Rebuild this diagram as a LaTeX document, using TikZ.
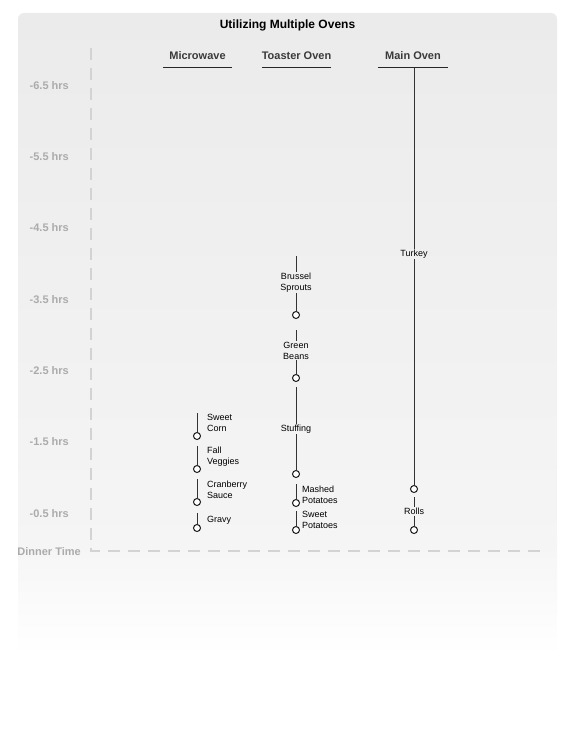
\documentclass[tikz,border=0pt]{standalone}
\usepackage{fontspec}
\setmainfont{Liberation Sans}
\usetikzlibrary{positioning,calc}
\definecolor{panel}{HTML}{EBEBEB}
\definecolor{panel2}{HTML}{F5F5F5}
\definecolor{axisline}{HTML}{D3D3D3}
\definecolor{axistext}{HTML}{ABABAB}
\definecolor{head}{HTML}{3A3A3A}
\definecolor{bar}{HTML}{333333}

\begin{document}
\begin{tikzpicture}[
  x=1pt,y=-1pt,
  title/.style={font=\bfseries\fontsize{12}{14}\selectfont,inner sep=0pt},
  oven/.style={font=\bfseries\fontsize{11}{13}\selectfont,text=head,inner sep=0pt,anchor=base},
  ovenrule/.style={draw=black!85,line width=1pt},
  hrs/.style={font=\bfseries\fontsize{11}{13}\selectfont,text=axistext,anchor=east,inner sep=0pt},
  axis/.style={draw=axisline,line width=2pt,dash pattern=on 12pt off 8pt},
  dish/.style={font=\fontsize{9}{11}\selectfont,align=left,inner sep=1pt},
  dishc/.style={font=\fontsize{9}{11}\selectfont,align=center,inner sep=1pt},
  done/.style={circle,draw=black!90,fill=white,line width=1pt,inner sep=0pt,minimum size=7pt},
  span/.style={draw=bar,line width=1pt}
]
\useasboundingbox (0,0) rectangle (576,733);

% panel
\shade[top color=panel2,bottom color=white] (18,540) rectangle (557,655);
\shade[top color=panel,bottom color=panel2,rounded corners=6pt]
  (18,551) -- (18,13) -- (557,13) -- (557,551) [sharp corners] -- cycle;

\node[title] (title) at (287.5,25.5) {Utilizing Multiple Ovens};

% oven headers
\node[oven] (micro) at (197.5,60) {Microwave};
\node[oven] (toaster) at (296.5,60) {Toaster Oven};
\node[oven] (main) at (413,60) {Main Oven};
\draw[ovenrule] (163,68) -- (232,68);
\draw[ovenrule] (262,68) -- (331,68);
\draw[ovenrule] (378,68) -- (448,68);

% time axis
\draw[axis] (91,48) -- (91,551) -- (546,551);
\node[hrs] (h65) at (69,85.5) {-6.5 hrs};
\node[hrs] (h55) at (69,156.5) {-5.5 hrs};
\node[hrs] (h45) at (69,227.5) {-4.5 hrs};
\node[hrs] (h35) at (69,299.5) {-3.5 hrs};
\node[hrs] (h25) at (69,370.5) {-2.5 hrs};
\node[hrs] (h15) at (69,441.5) {-1.5 hrs};
\node[hrs] (h05) at (69,513.5) {-0.5 hrs};
\node[hrs] (dinner) at (81,551.5) {Dinner Time};

% microwave
\coordinate (cornS) at (197,413);
\node[done] (cornE) at (197,436) {};
\node[dish,anchor=west] (cornT) at (206,422.5) {Sweet\\Corn};
\draw[span] (cornS) -- (cornE);

\coordinate (veggS) at (197,446);
\node[done] (veggE) at (197,469) {};
\node[dish,anchor=west] (veggT) at (206,456.5) {Fall\\Veggies};
\draw[span] (veggS) -- (veggE);

\coordinate (cranS) at (197,479);
\node[done] (cranE) at (197,502) {};
\node[dish,anchor=west] (cranT) at (206,489.5) {Cranberry\\Sauce};
\draw[span] (cranS) -- (cranE);

\coordinate (gravyS) at (197,513);
\node[done] (gravyE) at (197,528) {};
\node[dish,anchor=west] (gravyT) at (206,520) {Gravy};
\draw[span] (gravyS) -- (gravyE);

% toaster oven
\coordinate (sproutS) at (296,256);
\node[done] (sproutE) at (296,315) {};
\node[dishc] (sproutT) at (296,282.5) {Brussel\\Sprouts};
\draw[span] (sproutS) -- (sproutT) -- (sproutE);

\coordinate (beansS) at (296,330);
\node[done] (beansE) at (296,378) {};
\node[dishc] (beansT) at (296,350.5) {Green\\Beans};
\draw[span] (beansS) -- (beansT) -- (beansE);

\coordinate (stuffS) at (296,387);
\node[done] (stuffE) at (296,474) {};
\node[dishc] (stuffT) at (296,429) {Stuffing};
\draw[span] (stuffS) -- (stuffT) -- (stuffE);

\coordinate (mashS) at (296,484);
\node[done] (mashE) at (296,503) {};
\node[dish,anchor=west] (mashT) at (301,494.5) {Mashed\\Potatoes};
\draw[span] (mashS) -- (mashE);

\coordinate (sweetS) at (296,511);
\node[done] (sweetE) at (296,530) {};
\node[dish,anchor=west] (sweetT) at (301,519.5) {Sweet\\Potatoes};
\draw[span] (sweetS) -- (sweetE);

% main oven
\coordinate (turkeyS) at (414,68);
\node[done] (turkeyE) at (414,489) {};
\node[dishc] (turkeyT) at (414,254) {Turkey};
\draw[span] (turkeyS) -- (turkeyT) -- (turkeyE);

\coordinate (rollsS) at (414,497);
\node[done] (rollsE) at (414,530) {};
\node[dishc] (rollsT) at (414,511) {Rolls};
\draw[span] (rollsS) -- (rollsT) -- (rollsE);

\end{tikzpicture}
\end{document}
